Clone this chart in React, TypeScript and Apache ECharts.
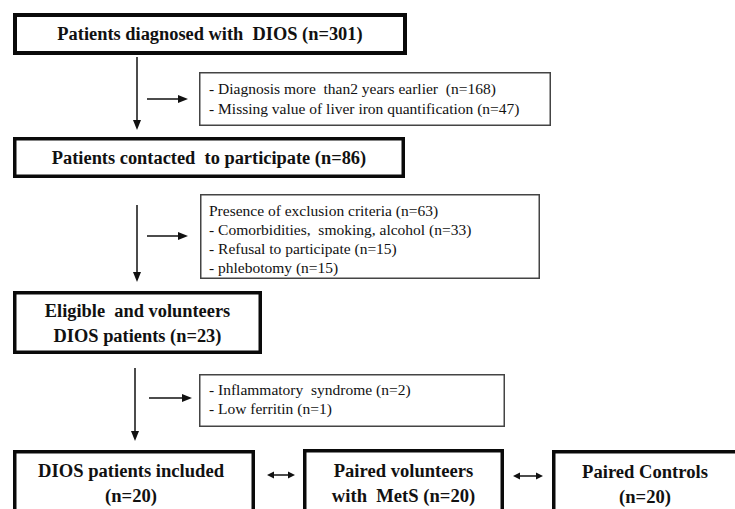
import React, { useEffect, useRef } from "react";
import * as echarts from "echarts";

// ---- data ----
const stageLabels = [
  "Patients diagnosed with  DIOS",
  "Patients contacted  to participate",
  "Eligible  and volunteers|DIOS patients",
  "DIOS patients included|",
  "Paired volunteers|with  MetS",
  "Paired Controls|",
];
const stageCounts = [301, 86, 23, 20, 20, 20];

const exclusion1Reasons = ["- Diagnosis more  than2 years earlier ", "- Missing value of liver iron quantification"];
const exclusion1Counts = [168, 47];
const exclusion2Reasons = ["Presence of exclusion criteria", "- Comorbidities,  smoking, alcohol", "- Refusal to participate", "- phlebotomy"];
const exclusion2Counts = [63, 33, 15, 15];
const exclusion3Reasons = ["- Inflammatory  syndrome", "- Low ferritin"];
const exclusion3Counts = [2, 1];

const FAMILY = "'Liberation Serif', 'Times New Roman', serif";
const INK = "#111";

function stageLines(i: number): string[] {
  const parts = stageLabels[i].split("|");
  const n = `(n=${stageCounts[i]})`;
  if (parts.length === 1) return [`${parts[0]} ${n}`];
  if (parts[1] === "") return [parts[0], n];
  return [parts[0], `${parts[1]} ${n}`];
}

function buildGraphics() {
  const g: any[] = [];
  const box = (x0: number, y0: number, x1: number, y1: number, lw: number, stroke: string) => {
    g.push({
      type: "rect",
      shape: { x: x0 + lw / 2, y: y0 + lw / 2, width: x1 - x0 - lw, height: y1 - y0 - lw },
      style: { fill: "#fff", stroke, lineWidth: lw },
    });
  };
  const text = (x: number, y: number, t: string, size: number, bold: boolean, align: string) => {
    g.push({
      type: "text",
      x,
      y,
      style: {
        text: t,
        fontFamily: FAMILY,
        fontSize: size,
        fontWeight: bold ? "bold" : "normal",
        fill: INK,
        align,
        verticalAlign: "middle",
      },
    });
  };
  const vArrow = (x: number, y0: number, tip: number) => {
    g.push({ type: "line", shape: { x1: x, y1: y0, x2: x, y2: tip - 8 }, style: { stroke: INK, lineWidth: 1.5 } });
    g.push({ type: "polygon", shape: { points: [[x - 4, tip - 10], [x + 4, tip - 10], [x, tip]] }, style: { fill: INK } });
  };
  const hArrow = (x0: number, tip: number, y: number) => {
    g.push({ type: "line", shape: { x1: x0, y1: y, x2: tip - 8, y2: y }, style: { stroke: INK, lineWidth: 1.5 } });
    g.push({ type: "polygon", shape: { points: [[tip - 10, y - 4], [tip - 10, y + 4], [tip, y]] }, style: { fill: INK } });
  };
  const dArrow = (x0: number, x1: number, y: number) => {
    g.push({ type: "line", shape: { x1: x0 + 5, y1: y, x2: x1 - 5, y2: y }, style: { stroke: INK, lineWidth: 1.5 } });
    g.push({ type: "polygon", shape: { points: [[x0 + 7, y - 3.5], [x0 + 7, y + 3.5], [x0, y]] }, style: { fill: INK } });
    g.push({ type: "polygon", shape: { points: [[x1 - 7, y - 3.5], [x1 - 7, y + 3.5], [x1, y]] }, style: { fill: INK } });
  };

  // main boxes [x0,y0,x1,y1, lineY...]
  const mains: [number, number, number, number, number[]][] = [
    [13, 13, 407, 55, [34]],
    [13, 137, 405, 178, [157.5]],
    [13, 291, 262, 354, [311, 336]],
    [13, 450, 255, 530, [470, 495]],
    [303, 449, 504, 530, [470, 495]],
    [552, 450, 745, 530, [471, 496]],
  ];
  mains.forEach((m, i) => {
    box(m[0], m[1], m[2], m[3], i === 0 ? 4 : 3.5, "#0a0a0a");
    const lines = stageLines(i);
    const cx = i === 5 ? 645 : i === 3 ? 131 : (m[0] + m[2]) / 2;
    lines.forEach((l, k) => text(cx, m[4][k], l, i >= 3 ? 18.6 : 18.4, true, "center"));
  });

  // exclusion boxes
  const excl: [number, number, number, number, string[], number[], number[]][] = [
    [199, 72, 551, 126, exclusion1Reasons, exclusion1Counts, [88, 108]],
    [200, 194, 540, 279, exclusion2Reasons, exclusion2Counts, [210, 229, 248, 267]],
    [199, 374, 505, 427, exclusion3Reasons, exclusion3Counts, [389, 408]],
  ];
  excl.forEach((e) => {
    box(e[0], e[1], e[2], e[3], 1.5, "#444");
    e[4].forEach((r, k) => text(209, e[6][k], `${r} (n=${e[5][k]})`, 15.5, false, "left"));
  });

  // arrows
  vArrow(137, 57, 130);
  vArrow(137, 205, 282);
  vArrow(135, 368, 441);
  hArrow(147, 188, 99);
  hArrow(147, 188, 236);
  hArrow(149, 192, 398);
  dArrow(267, 295, 475);
  dArrow(513, 543, 476);
  return g;
}

export default function App() {
  const ref = useRef<HTMLDivElement>(null);
  useEffect(() => {
    if (!ref.current) return;
    const chart = echarts.init(ref.current, undefined, { renderer: "svg" });
    chart.setOption({
      animation: false,
      backgroundColor: "#fff",
      graphic: buildGraphics(),
    });
    return () => chart.dispose();
  }, []);
  return (
    <div
      ref={ref}
      style={{ position: "fixed", left: 0, top: 0, width: 735, height: 509, background: "#fff" }}
    />
  );
}
